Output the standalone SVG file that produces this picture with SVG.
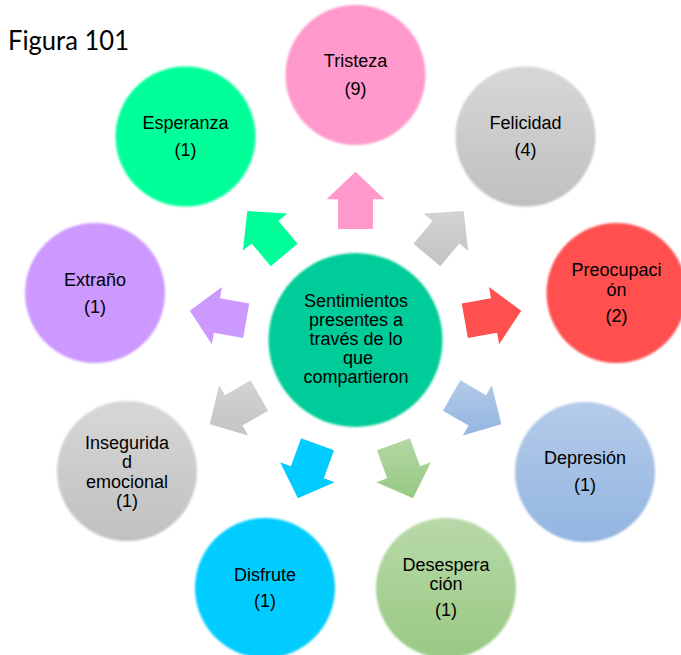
<svg xmlns="http://www.w3.org/2000/svg" width="681" height="655" viewBox="0 0 681 655">
<style>
.t{font-family:"Liberation Sans",Arial,Helvetica,sans-serif;font-size:18px;fill:#000;text-anchor:middle}
.title{font-family:Lato,"Open Sans","Noto Sans",sans-serif;font-size:26px;fill:#000}
</style>
<defs>
<filter id="soft" x="-5%" y="-5%" width="110%" height="110%"><feGaussianBlur stdDeviation="0.9"/></filter>
<linearGradient id="cGray" x1="0" y1="0" x2="0" y2="1"><stop offset="0" stop-color="#d7d7d7"/><stop offset="1" stop-color="#c0c0c0"/></linearGradient>
<linearGradient id="cBlue" x1="0" y1="0" x2="0" y2="1"><stop offset="0" stop-color="#b5cbe9"/><stop offset="1" stop-color="#92b5e0"/></linearGradient>
<linearGradient id="cGreen" x1="0" y1="0" x2="0" y2="1"><stop offset="0" stop-color="#b8d9a8"/><stop offset="1" stop-color="#99c984"/></linearGradient>
<linearGradient id="aFel" gradientUnits="userSpaceOnUse" x1="0" y1="208" x2="0" y2="268" gradientTransform="rotate(-40 355.5 340)"><stop offset="0" stop-color="#d4d4d4"/><stop offset="1" stop-color="#c2c2c2"/></linearGradient>
<linearGradient id="aDep" gradientUnits="userSpaceOnUse" x1="0" y1="378" x2="0" y2="442" gradientTransform="rotate(-120 355.5 340)"><stop offset="0" stop-color="#b5cbe9"/><stop offset="1" stop-color="#8fb3e0"/></linearGradient>
<linearGradient id="aDes" gradientUnits="userSpaceOnUse" x1="0" y1="430" x2="0" y2="500" gradientTransform="rotate(-160 355.5 340)"><stop offset="0" stop-color="#b8d9a8"/><stop offset="1" stop-color="#96c882"/></linearGradient>
<linearGradient id="aIns" gradientUnits="userSpaceOnUse" x1="0" y1="378" x2="0" y2="442" gradientTransform="rotate(-240 355.5 340)"><stop offset="0" stop-color="#d4d4d4"/><stop offset="1" stop-color="#c2c2c2"/></linearGradient>
<path id="arr" d="M338,229 L338,199.3 L326.5,199.3 L355.5,171.7 L384.5,199.3 L373,199.3 L373,229 Z"/>
</defs>
<rect width="681" height="655" fill="#fff"/>
<text class="title" x="8" y="50" textLength="121" lengthAdjust="spacingAndGlyphs">Figura 101</text>

<g id="connectors">
<use href="#arr" fill="#ff99cc"/>
<use href="#arr" fill="url(#aFel)" transform="rotate(40 355.5 340)"/>
<use href="#arr" fill="#ff5050" transform="rotate(80 355.5 340)"/>
<use href="#arr" fill="url(#aDep)" transform="rotate(120 355.5 340)"/>
<use href="#arr" fill="url(#aDes)" transform="rotate(160 355.5 340)"/>
<use href="#arr" fill="#00ccff" transform="rotate(200 355.5 340)"/>
<use href="#arr" fill="url(#aIns)" transform="rotate(240 355.5 340)"/>
<use href="#arr" fill="#cc99ff" transform="rotate(280 355.5 340)"/>
<use href="#arr" fill="#00ff99" transform="rotate(320 355.5 340)"/>
</g>

<g id="center">
<circle cx="355.5" cy="340" r="87" fill="#00cc99" filter="url(#soft)"/>
<text class="t" x="356" y="306.5">Sentimientos</text>
<text class="t" x="356" y="325.5">presentes a</text>
<text class="t" x="356" y="344.5">través de lo</text>
<text class="t" x="358" y="363.5">que</text>
<text class="t" x="356" y="382.5">compartieron</text>
</g>

<g id="tristeza">
<circle cx="355.5" cy="75" r="70" fill="#ff99cc" filter="url(#soft)"/>
<text class="t" x="355.5" y="67">Tristeza</text>
<text class="t" x="355.5" y="95">(9)</text>
</g>

<g id="felicidad">
<circle cx="525.5" cy="136.5" r="70" fill="url(#cGray)" filter="url(#soft)"/>
<text class="t" x="525.5" y="128.5">Felicidad</text>
<text class="t" x="525.5" y="156">(4)</text>
</g>

<g id="preocupacion">
<circle cx="616.5" cy="293" r="70" fill="#ff5050" filter="url(#soft)"/>
<text class="t" x="616.5" y="276">Preocupaci</text>
<text class="t" x="616.5" y="296">ón</text>
<text class="t" x="616.5" y="322">(2)</text>
</g>

<g id="depresion">
<circle cx="585" cy="472" r="70" fill="url(#cBlue)" filter="url(#soft)"/>
<text class="t" x="585" y="464">Depresión</text>
<text class="t" x="585" y="491">(1)</text>
</g>

<g id="desesperacion">
<circle cx="446" cy="588" r="70" fill="url(#cGreen)" filter="url(#soft)"/>
<text class="t" x="446" y="571">Desespera</text>
<text class="t" x="446" y="589.5">ción</text>
<text class="t" x="446" y="616">(1)</text>
</g>

<g id="disfrute">
<circle cx="265" cy="588" r="70" fill="#00ccff" filter="url(#soft)"/>
<text class="t" x="265" y="581">Disfrute</text>
<text class="t" x="265" y="607">(1)</text>
</g>

<g id="inseguridad">
<circle cx="127" cy="471" r="70" fill="url(#cGray)" filter="url(#soft)"/>
<text class="t" x="127" y="449">Insegurida</text>
<text class="t" x="127" y="468">d</text>
<text class="t" x="127" y="488">emocional</text>
<text class="t" x="127" y="507">(1)</text>
</g>

<g id="extrano">
<circle cx="95" cy="293" r="70" fill="#cc99ff" filter="url(#soft)"/>
<text class="t" x="95" y="285.5">Extraño</text>
<text class="t" x="95" y="313">(1)</text>
</g>

<g id="esperanza">
<circle cx="185.5" cy="136.5" r="70" fill="#00ff99" filter="url(#soft)"/>
<text class="t" x="185.5" y="128.5">Esperanza</text>
<text class="t" x="185.5" y="156">(1)</text>
</g>
</svg>
